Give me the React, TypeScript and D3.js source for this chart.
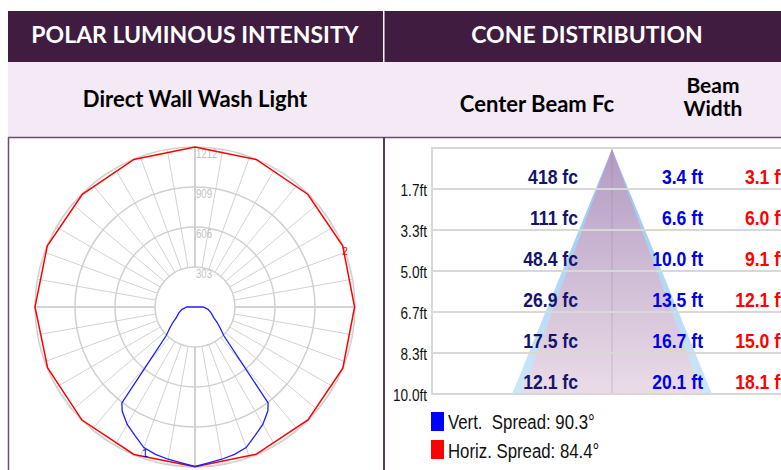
import React from 'react';
import * as d3 from 'd3';

// ---------- Polar luminous intensity data ----------
const ringValues = [303, 606, 909, 1212];
const ringLabels = ['303', '606', '909', '1212'];
// vertical plane (blue), degrees from nadir, mirrored on both sides
const vertAngles = [0, 5, 10, 15, 20, 25, 30, 35, 37.3, 40, 45, 50, 55, 60, 70, 80, 90, 100];
const vertValues = [1208, 1185, 1171, 1156, 1133, 1075, 1027, 962, 914, 543, 311, 250, 205, 165, 130, 100, 62, 0];
// horizontal plane (red), degrees clockwise from top
const horizAngles = [0, 22.5, 45, 67.5, 90, 112.5, 135, 157.5, 180, 202.5, 225, 247.5, 270, 292.5, 315, 337.5];
const horizValues = [1212, 1210, 1208, 1211, 1209, 1212, 1210, 1208, 1210, 1209, 1211, 1208, 1212, 1211, 1207, 1210];

// ---------- Cone distribution data ----------
const distLabels = ['1.7ft', '3.3ft', '5.0ft', '6.7ft', '8.3ft', '10.0ft'];
const distances = [1.7, 3.3, 5.0, 6.7, 8.3, 10.0];
const centerFc = [418, 111, 48.4, 26.9, 17.5, 12.1];
const vertWidthFt = [3.4, 6.6, 10.0, 13.5, 16.7, 20.1];
const horizWidthFt = [3.1, 6.0, 9.1, 12.1, 15.0, 18.1];
const vertSpread = 90.3;
const horizSpread = 84.4;

const headerDark = '#401c40';
const lavender = '#f3eaf6';
const borderPurple = '#6e4f6e';

const rad = (d: number) => (d * Math.PI) / 180;

function SText(props: any) {
  const { x, y, sx = 1, anchor = 'start', children, ...rest } = props;
  return (
    <text transform={`translate(${x},${y}) scale(${sx},1)`} textAnchor={anchor} {...rest}>
      {children}
    </text>
  );
}

export default function App() {
  // polar
  const cx = 195, cy = 307, R = 160;
  const r = d3.scaleLinear().domain([0, 1212]).range([0, R]);
  const spokes = d3.range(0, 360, 10);
  const pt = (angDeg: number, rho: number) => [cx + rho * Math.sin(rad(angDeg)), cy - rho * Math.cos(rad(angDeg))];

  const vertPts = [
    ...vertAngles.map((a, i) => ({ ang: 180 + a, v: vertValues[i] })).reverse(),
    ...vertAngles.map((a, i) => ({ ang: 180 - a, v: vertValues[i] })),
  ];
  const vertLine = d3
    .lineRadial<any>()
    .angle((d) => rad(d.ang))
    .radius((d) => r(d.v))
    .curve(d3.curveLinear);
  const horizLine = d3
    .lineRadial<any>()
    .angle((d) => rad(d.ang))
    .radius((d) => r(d.v))
    .curve(d3.curveLinearClosed);
  const horizPts = horizAngles.map((a, i) => ({ ang: a, v: horizValues[i] }));

  // cone
  const yBand = d3.scaleBand().domain(distLabels).range([148, 394]);
  const rowBottom = (i: number) => (yBand(distLabels[i]) as number) + yBand.bandwidth();
  const yDist = d3.scaleLinear().domain([0, distances[distances.length - 1]]).range([149, 394]);
  const maxW = vertWidthFt[vertWidthFt.length - 1];
  const xFt = d3.scaleLinear().domain([-maxW / 2, maxW / 2]).range([512, 712]);
  const apexX = xFt(0);
  const dLast = distances[distances.length - 1];
  const hW = horizWidthFt[horizWidthFt.length - 1];
  const vertTri = `M${apexX},${yDist(0)}L${xFt(-maxW / 2)},${yDist(dLast)}L${xFt(maxW / 2)},${yDist(dLast)}Z`;
  const horizTri = `M${apexX},${yDist(0)}L${xFt(-hW / 2)},${yDist(dLast)}L${xFt(hW / 2)},${yDist(dLast)}Z`;
  const fmtFc = (v: number) => (v >= 100 ? d3.format('.0f')(v) : d3.format('.1f')(v)) + ' fc';
  const fmtFt = (v: number) => d3.format('.1f')(v) + ' ft';

  const valFont = { fontFamily: '"Liberation Sans", Arial, sans-serif', fontWeight: 700, fontSize: 20 };
  const tickFont = { fontFamily: '"Liberation Sans", Arial, sans-serif', fontSize: 16 };
  const headFont = { fontFamily: 'Lato, "Open Sans", sans-serif', fontWeight: 700 };

  return (
    <svg width={781} height={470} style={{ position: 'absolute', left: 0, top: 0, background: '#fff' }}>
      <defs>
        <linearGradient id="purpleGrad" x1="0" y1="0" x2="0" y2="1">
          <stop offset="0" stopColor="#b39bc3" />
          <stop offset="1" stopColor="#eadce7" />
        </linearGradient>
        <linearGradient id="blueGrad" x1="0" y1="0" x2="0" y2="1">
          <stop offset="0" stopColor="#8fc6ef" />
          <stop offset="1" stopColor="#cfe7f8" />
        </linearGradient>
      </defs>

      {/* headers */}
      <rect x={8} y={11} width={375} height={51} fill={headerDark} />
      <rect x={384.5} y={11} width={405} height={51} fill={headerDark} />
      <rect x={8} y={62} width={790} height={75} fill={lavender} />
      <line x1={8} x2={790} y1={137.5} y2={137.5} stroke={borderPurple} strokeWidth={1.5} />
      <text x={195} y={43} textAnchor="middle" fill="#fff" fontSize={23} style={headFont}>POLAR LUMINOUS INTENSITY</text>
      <text x={587} y={43} textAnchor="middle" fill="#fff" fontSize={23} style={headFont}>CONE DISTRIBUTION</text>
      <text x={195} y={107} textAnchor="middle" fill="#000" fontSize={22} style={headFont}>Direct Wall Wash Light</text>
      <text x={537} y={112} textAnchor="middle" fill="#000" fontSize={22} style={headFont}>Center Beam Fc</text>
      <text x={713} y={93} textAnchor="middle" fill="#000" fontSize={21} style={headFont}>Beam</text>
      <text x={713} y={116} textAnchor="middle" fill="#000" fontSize={21} style={headFont}>Width</text>

      {/* polar panel borders */}
      <line x1={8.5} x2={8.5} y1={137} y2={470} stroke={borderPurple} strokeWidth={1.5} />
      <line x1={384} x2={384} y1={137} y2={470} stroke="#5a3a5a" strokeWidth={2} />

      {/* polar grid */}
      <g>
        {spokes.map((a) => {
          const [x1, y1] = pt(a, r(ringValues[0]));
          const [x2, y2] = pt(a, r(ringValues[ringValues.length - 1]));
          const axis = a % 90 === 0;
          return (
            <line key={a} x1={x1} y1={y1} x2={x2} y2={y2}
              stroke={axis ? '#c6c6c6' : '#d2d2d2'} strokeWidth={axis ? 1.6 : 1} />
          );
        })}
        {ringValues.map((v) => (
          <circle key={v} cx={cx} cy={cy} r={r(v)} fill="none" stroke="#d0d0d0" strokeWidth={1.5} />
        ))}
        {ringValues.map((v, i) => (
          <SText key={'l' + v} x={cx + 1} y={cy - r(v) + 11} sx={0.8} fill="#c2c2c2"
            style={{ fontFamily: '"Liberation Sans", Arial, sans-serif', fontSize: 12 }}>
            {ringLabels[i]}
          </SText>
        ))}
      </g>
      <path d={horizLine(horizPts) as string} transform={`translate(${cx},${cy})`} fill="none" stroke="#ff0000" strokeWidth={1.5} />
      <path d={vertLine(vertPts) as string} transform={`translate(${cx},${cy})`} fill="none" stroke="#1e1eff" strokeWidth={1.3} />
      <text x={345} y={255} textAnchor="middle" fill="#ff0000" fontSize={10} style={{ fontFamily: '"Liberation Sans", Arial, sans-serif' }}>2</text>
      <text x={145} y={457} textAnchor="middle" fill="#0000a0" fontSize={11} style={{ fontFamily: '"Liberation Sans", Arial, sans-serif' }}>1</text>

      {/* cone */}
      <path d={vertTri} fill="url(#blueGrad)" />
      <path d={horizTri} fill="url(#purpleGrad)" />
      <line x1={apexX} x2={apexX} y1={yDist(0)} y2={yDist(dLast)} stroke="#8a7090" strokeOpacity={0.3} strokeWidth={1} />
      <line x1={432} x2={781} y1={148} y2={148} stroke="#d8d8d8" strokeWidth={2} />
      {distLabels.map((lab, i) => (
        <line key={'g' + i} x1={432} x2={781} y1={rowBottom(i)} y2={rowBottom(i)} stroke="#d8d8d8" strokeWidth={2} />
      ))}
      <line x1={432} x2={432} y1={147} y2={395} stroke="#d8d8d8" strokeWidth={2} />
      {distLabels.map((lab, i) => (
        <SText key={'t' + i} x={427} y={rowBottom(i) + 7} sx={0.85} anchor="end" fill="#111" style={tickFont}>
          {lab}
        </SText>
      ))}
      {centerFc.map((v, i) => (
        <SText key={'fc' + i} x={578} y={rowBottom(i) - 5} sx={0.88} anchor="end" fill="#14146e" style={valFont}>
          {fmtFc(v)}
        </SText>
      ))}
      {vertWidthFt.map((v, i) => (
        <SText key={'vw' + i} x={703} y={rowBottom(i) - 5} sx={0.88} anchor="end" fill="#0000e6" style={valFont}>
          {fmtFt(v)}
        </SText>
      ))}
      {horizWidthFt.map((v, i) => (
        <SText key={'hw' + i} x={786} y={rowBottom(i) - 5} sx={0.88} anchor="end" fill="#ff0000" style={valFont}>
          {fmtFt(v)}
        </SText>
      ))}

      {/* legend */}
      <rect x={431} y={412} width={13} height={19} fill="#0000ff" />
      <rect x={431} y={440} width={13} height={19} fill="#ff0000" />
      <SText x={448} y={429} sx={0.8} fill="#111" style={{ fontFamily: '"Liberation Sans", Arial, sans-serif', fontSize: 21, whiteSpace: 'pre' }}>
        {`Vert.  Spread: ${vertSpread}°`}
      </SText>
      <SText x={448} y={458} sx={0.8} fill="#111" style={{ fontFamily: '"Liberation Sans", Arial, sans-serif', fontSize: 21, whiteSpace: 'pre' }}>
        {`Horiz. Spread: ${horizSpread}°`}
      </SText>
    </svg>
  );
}
